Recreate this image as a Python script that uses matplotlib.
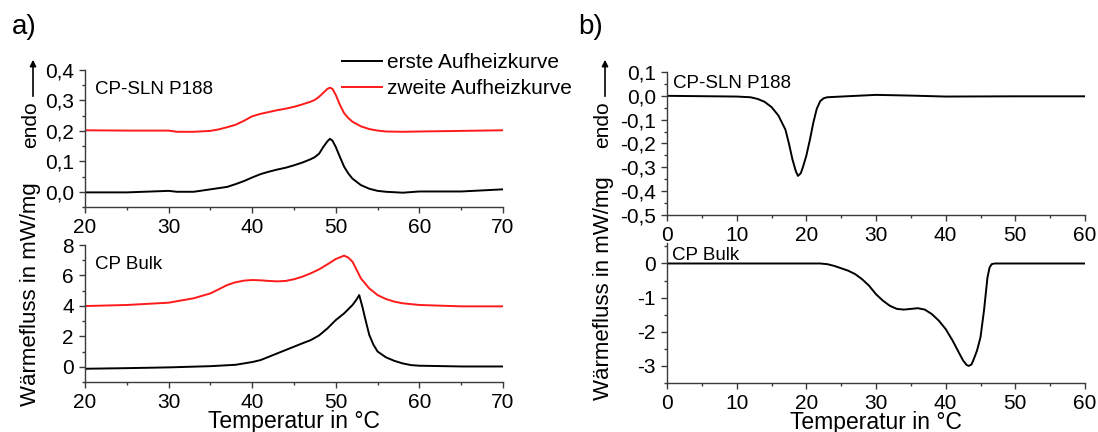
import matplotlib

matplotlib.use("Agg")

import matplotlib.pyplot as plt
from matplotlib.patches import FancyArrowPatch
from matplotlib.ticker import FuncFormatter, MultipleLocator


FIG_W, FIG_H = 1098, 432

# a) CP-SLN P188, heating runs
T_SLN = [20, 25, 30, 31, 33, 35, 36, 37, 38, 39, 40, 41, 42, 43, 44, 45, 46, 47, 47.5, 48,
         48.5, 49, 49.3, 49.6, 50, 50.5, 51, 51.5, 52, 53, 54, 55, 56, 58, 60, 65, 70]
SLN_FIRST = [-0.002, -0.002, 0.003, 0.0, 0.0, 0.008, 0.012, 0.016, 0.025, 0.035,
             0.047, 0.058, 0.066, 0.073, 0.079, 0.087, 0.096, 0.107, 0.114, 0.125,
             0.147, 0.166, 0.174, 0.168, 0.147, 0.114, 0.082, 0.060, 0.043, 0.022,
             0.010, 0.003, 0.0, -0.003, 0.001, 0.001, 0.008]
SLN_SECOND = [0.202, 0.201, 0.201, 0.197, 0.197, 0.200, 0.205, 0.212, 0.220, 0.233,
              0.248, 0.256, 0.262, 0.268, 0.273, 0.279, 0.287, 0.296, 0.302, 0.312,
              0.325, 0.338, 0.342, 0.338, 0.318, 0.285, 0.258, 0.242, 0.230, 0.215,
              0.206, 0.201, 0.198, 0.197, 0.198, 0.200, 0.202]

# a) CP Bulk, heating runs
T_BULK_FIRST = [20, 25, 30, 35, 38, 40, 41, 42, 43, 44, 45, 46, 47, 48, 49, 50, 51, 52,
                52.5, 52.8, 53.2, 53.5, 54, 54.5, 55, 56, 57, 58, 59, 60, 65, 70]
BULK_FIRST = [-0.13, -0.09, -0.04, 0.04, 0.13, 0.31, 0.44, 0.66, 0.88, 1.10, 1.32, 1.54,
              1.75, 2.06, 2.52, 3.07, 3.51, 4.06, 4.43, 4.71, 3.90, 3.20, 2.10, 1.45,
              1.00, 0.62, 0.39, 0.22, 0.11, 0.07, 0.02, 0.02]
T_BULK_SECOND = [20, 25, 30, 33, 35, 36, 37, 38, 39, 40, 41, 42, 43, 44, 45, 46, 47, 48,
                 49, 50, 51, 51.5, 52, 52.5, 53, 54, 55, 56, 57, 58, 60, 65, 70]
BULK_SECOND = [3.99, 4.06, 4.21, 4.50, 4.82, 5.09, 5.37, 5.55, 5.66, 5.70, 5.68, 5.64,
               5.61, 5.64, 5.75, 5.92, 6.14, 6.40, 6.73, 7.08, 7.30, 7.17, 6.90, 6.36,
               5.81, 5.15, 4.71, 4.45, 4.28, 4.17, 4.06, 3.97, 3.97]

# b) cooling runs
T_SLN_COOL = [0, 10, 12, 13, 14, 15, 16, 17, 17.5, 18, 18.5, 18.8, 19.2, 19.5, 20, 20.5,
              21, 21.5, 22, 22.5, 23, 25, 30, 35, 40, 50, 60]
SLN_COOL = [0.0, -0.003, -0.006, -0.013, -0.025, -0.047, -0.083, -0.142, -0.200, -0.266,
            -0.317, -0.336, -0.325, -0.300, -0.251, -0.186, -0.113, -0.054, -0.022, -0.010,
            -0.006, -0.003, 0.004, 0.001, -0.003, -0.002, -0.002]
T_BULK_COOL = [0, 20, 22, 23, 24, 25, 26, 27, 28, 29, 30, 31, 32, 33, 34, 35, 36, 37, 38,
               39, 40, 41, 42, 42.5, 43, 43.3, 43.7, 44, 44.5, 45, 45.5, 46, 46.3, 46.6,
               47, 60]
BULK_COOL = [0, 0, 0, -0.02, -0.07, -0.14, -0.21, -0.31, -0.46, -0.65, -0.90, -1.09,
             -1.24, -1.33, -1.35, -1.33, -1.31, -1.35, -1.48, -1.67, -1.92, -2.26, -2.65,
             -2.84, -2.97, -3.00, -2.96, -2.82, -2.55, -2.16, -1.38, -0.41, -0.12, -0.02,
             0, 0]

LABEL_FIRST = "erste Aufheizkurve"
LABEL_SECOND = "zweite Aufheizkurve"
Y_LABEL = "Wärmefluss in mW/mg"
X_LABEL = "Temperatur in °C"

FONT = "Liberation Sans"
SPINE_COLOR = "#3a3a3a"


def fx(px):
    return px / FIG_W


def fy(py):
    return 1 - py / FIG_H


def box(left, top, right, bottom):
    return [fx(left), fy(bottom), (right - left) / FIG_W, (bottom - top) / FIG_H]


def comma(decimals):
    return FuncFormatter(lambda v, _: f"{v:.{decimals}f}".replace(".", ","))


def style_axes(ax, xlim, xmajor, ylim, ymajor, decimals):
    ax.set_xlim(*xlim)
    ax.set_ylim(*ylim)
    ax.xaxis.set_major_locator(MultipleLocator(xmajor))
    ax.xaxis.set_minor_locator(MultipleLocator(xmajor / 2))
    ax.yaxis.set_major_locator(MultipleLocator(ymajor))
    ax.yaxis.set_minor_locator(MultipleLocator(ymajor / 2))
    ax.yaxis.set_major_formatter(comma(decimals))
    for side in ("top", "right"):
        ax.spines[side].set_visible(False)
    for side in ("left", "bottom"):
        ax.spines[side].set_color(SPINE_COLOR)
        ax.spines[side].set_linewidth(1.0)
    ax.tick_params(which="both", direction="out", color=SPINE_COLOR, width=1.0, labelsize=15, pad=4)
    ax.tick_params(which="major", length=4)
    ax.tick_params(which="minor", length=2.5)
    ax.patch.set_alpha(0)


def endo_marker(fig, x, y_text, y_tail, y_head):
    fig.text(fx(x), fy(y_text), "endo", rotation=90, ha="center", va="center", fontsize=15)
    fig.add_artist(FancyArrowPatch((fx(x + 2), fy(y_tail)), (fx(x + 2), fy(y_head)),
                                   transform=fig.transFigure, arrowstyle="-|>",
                                   mutation_scale=9, lw=1.2, color="black"))


def main():
    plt.rcParams["font.family"] = [FONT, "DejaVu Sans"]
    fig = plt.figure(figsize=(FIG_W / 100, FIG_H / 100), dpi=100)

    ax_a1 = fig.add_axes(box(85, 70, 503, 207))
    ax_a2 = fig.add_axes(box(85, 245, 503, 382))
    ax_b1 = fig.add_axes(box(667, 72, 1085, 215))
    ax_b2 = fig.add_axes(box(667, 243, 1085, 383))

    lw = 1.4
    ax_a1.plot(T_SLN, SLN_FIRST, color="black", lw=lw, label=LABEL_FIRST)
    ax_a1.plot(T_SLN, SLN_SECOND, color="#ff1a1a", lw=lw, label=LABEL_SECOND)
    ax_a2.plot(T_BULK_FIRST, BULK_FIRST, color="black", lw=lw)
    ax_a2.plot(T_BULK_SECOND, BULK_SECOND, color="#ff1a1a", lw=lw)
    ax_b1.plot(T_SLN_COOL, SLN_COOL, color="black", lw=lw)
    ax_b2.plot(T_BULK_COOL, BULK_COOL, color="black", lw=lw)

    style_axes(ax_a1, (20, 70), 10, (-0.05, 0.4), 0.1, 1)
    style_axes(ax_a2, (20, 70), 10, (-1, 8), 2, 0)
    style_axes(ax_b1, (0, 60), 10, (-0.5, 0.1), 0.1, 1)
    style_axes(ax_b2, (0, 60), 10, (-3.5, 0.6), 1, 0)

    ax_a2.set_xlabel(X_LABEL, fontsize=16.5, labelpad=-1.5)
    ax_b2.set_xlabel(X_LABEL, fontsize=16.5, labelpad=-1.5)

    for ax, text in ((ax_a1, "CP-SLN P188"), (ax_a2, "CP Bulk")):
        ax.text(0.025, 0.92, text, transform=ax.transAxes, fontsize=13.5, va="top")
    ax_b1.text(0.015, 0.98, "CP-SLN P188", transform=ax_b1.transAxes, fontsize=13.5, va="top")
    ax_b2.text(0.012, 0.97, "CP Bulk", transform=ax_b2.transAxes, fontsize=13.5, va="top")

    fig.text(fx(24), fy(27), "a)", fontsize=20, ha="center", va="center")
    fig.text(fx(591), fy(27), "b)", fontsize=20, ha="center", va="center")

    fig.text(fx(31), fy(294), Y_LABEL, rotation=90, ha="center", va="center", fontsize=16)
    fig.text(fx(603), fy(288), Y_LABEL, rotation=90, ha="center", va="center", fontsize=16)
    endo_marker(fig, 31, 125, 99, 57)
    endo_marker(fig, 603, 125, 99, 57)

    fig.legend(loc="upper left", bbox_to_anchor=(fx(342), fy(53)), frameon=False,
               fontsize=15, handlelength=1.9, handletextpad=0.25, labelspacing=0.34,
               borderpad=0, borderaxespad=0)

    fig.savefig("out.png", dpi=100)
    plt.close(fig)


if __name__ == "__main__":
    main()
